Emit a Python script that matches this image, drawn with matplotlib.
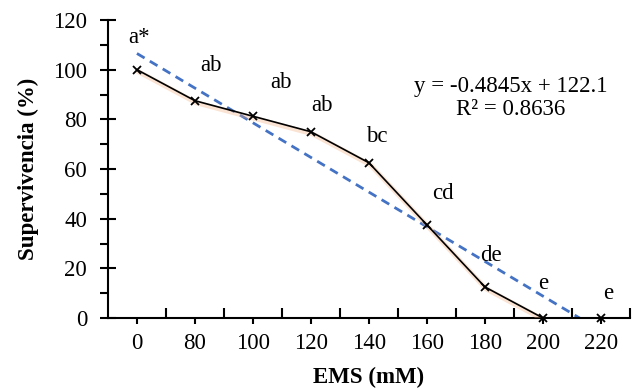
import matplotlib.pyplot as plt
import matplotlib.patheffects as pe
from matplotlib.ticker import MultipleLocator, FixedLocator
import numpy as np

plt.rcParams['font.family'] = ['Liberation Serif', 'DejaVu Serif']

doses = ['0', '80', '100', '120', '140', '160', '180', '200', '220']
survival = [100, 87.5, 81.25, 75, 62.5, 37.5, 12.5, 0, 0]
letters = ['a*', 'ab', 'ab', 'ab', 'bc', 'cd', 'de', 'e', 'e']
equation = 'y = -0.4845x + 122.1\nR² = 0.8636'

FS = 16.5

x = np.arange(len(doses))
y = np.array(survival)

fig = plt.figure(figsize=(6.35, 3.9), dpi=100)
ax = fig.add_axes([0.170, 0.1846, 0.822, 0.7641])

# trendline fitted on category index (as in Excel)
slope, icpt = np.polyfit(x, y, 1)
xt = np.array([0, len(doses) - 1])
ax.plot(xt, slope * xt + icpt, color='#4472C4', lw=2, ls=(0, (3.2, 2.2)), zorder=2)

# line stops at 200, last point marker only
ax.plot(x[:-1], y[:-1], color='black', lw=1.2, zorder=3,
        path_effects=[pe.SimpleLineShadow(offset=(1, -1.5), shadow_color='#f4b183', alpha=0.35, linewidth=3.5),
                      pe.Normal()])
ax.plot(x, y, ls='none', marker='x', color='black', ms=6, mew=1.3, zorder=4, clip_on=False)

label_pos = [(0.03, 113), (1.28, 101.5), (2.49, 95), (3.19, 85.4), (4.13, 72.9),
             (5.28, 50), (6.11, 25), (7.0, 13.7), (8.12, 10)]
for (lx, ly), t in zip(label_pos, letters):
    ax.text(lx, ly, t, ha='center', va='center', fontsize=FS)

ax.text(6.44, 88.6, equation, ha='center', va='center', fontsize=FS, linespacing=1.12,
        multialignment='center')

ax.set_xlim(-0.5, len(doses) - 0.5)
ax.set_ylim(0, 120)
ax.set_xticks(x)
ax.set_xticklabels(doses)
ax.xaxis.set_minor_locator(FixedLocator(np.arange(0.5, len(doses), 1.0)))
ax.tick_params(axis='x', which='major', direction='out', length=4, width=1.5, labelsize=FS, pad=7)
ax.tick_params(axis='x', which='minor', direction='in', length=7, width=1.5)
ax.yaxis.set_major_locator(MultipleLocator(20))
ax.yaxis.set_minor_locator(MultipleLocator(10))
ax.tick_params(axis='y', which='major', direction='inout', length=12, width=1.5, labelsize=FS, pad=9)
ax.tick_params(axis='y', which='minor', direction='out', length=6, width=1.5)

for s in ['top', 'right']:
    ax.spines[s].set_visible(False)
for s in ['left', 'bottom']:
    ax.spines[s].set_linewidth(1.5)

ax.set_xlabel('EMS (mM)', fontsize=FS, fontweight='bold', labelpad=9)
ax.set_ylabel('Supervivencia (%)', fontsize=FS, fontweight='bold', labelpad=10)

fig.savefig('out.png', dpi=100)
